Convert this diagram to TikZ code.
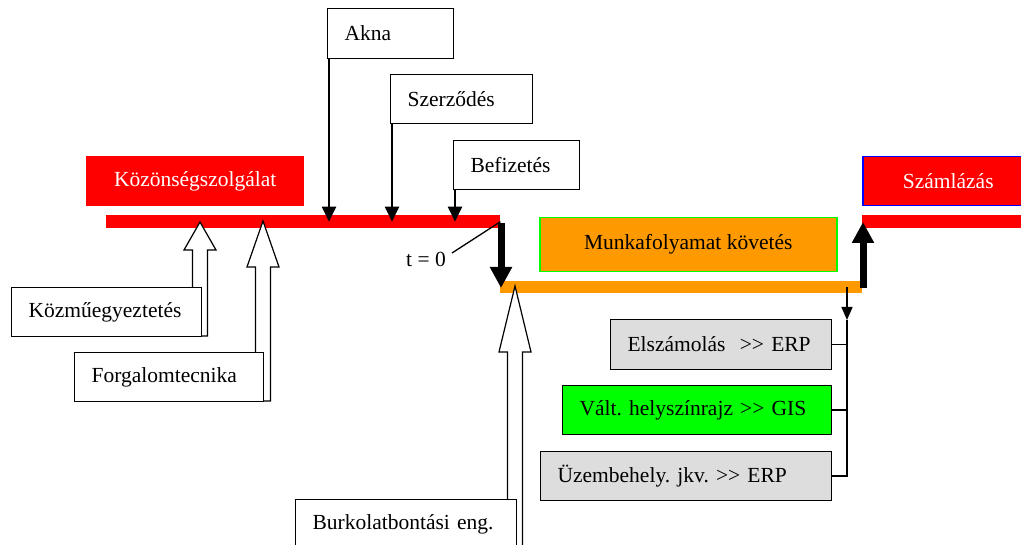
\documentclass[tikz,border=0pt]{standalone}
\usepackage{fontspec}
\setmainfont{Liberation Serif}
\usetikzlibrary{arrows.meta,calc}
\frenchspacing
\definecolor{barred}{RGB}{255,0,0}
\definecolor{barorange}{RGB}{255,153,0}
\definecolor{boxgreen}{RGB}{0,255,0}
\definecolor{boxgrey}{RGB}{221,221,221}
\definecolor{boxblue}{RGB}{0,0,255}
\newcommand\hollowarrow[4]{% tip x, tip y, head base y, shaft bottom y
  \draw[blockarrow] ({#1-7.5},#4) -- ({#1-7.5},#3) -- ({#1-16},#3) -- (#1,#2)
    -- ({#1+16},#3) -- ({#1+7.5},#3) -- ({#1+7.5},#4) -- cycle;}
\begin{document}
\begin{tikzpicture}[x=1pt,y=-1pt,
  txt/.style={font=\fontsize{21.5}{25}\selectfont},
  lbox/.style={txt,draw,line width=1.2pt,fill=white,anchor=north west,
    align=left,inner xsep=17pt,inner ysep=0pt},
  cbox/.style={txt,anchor=north west,align=center,inner sep=0pt},
  bar/.style={anchor=north west,inner sep=0pt,minimum height=13pt},
  thinarrow/.style={line width=2pt,-{Triangle[width=14pt,length=15pt]}},
  thickarrow/.style={line width=7pt,-{Triangle[width=21pt,length=21pt]}},
  smallarrow/.style={line width=1.5pt,-{Triangle[width=11pt,length=13pt]}},
  bus/.style={line width=1.3pt},
  blockarrow/.style={draw,line width=1.2pt,fill=white,line join=miter}]
\useasboundingbox (0,0) rectangle (1021,545);
\clip (0,0) rectangle (1021,545);

% timeline bars
\node[bar,fill=barred,minimum width=394pt] (redbar) at (106,215) {};
\node[bar,fill=barorange,minimum width=362pt,minimum height=12pt] (orangebar) at (500,281) {};
\node[bar,fill=barred,minimum width=170pt] (redbarb) at (862,215) {};

% phase titles
\node[cbox,fill=barred,text=white,minimum width=218pt,minimum height=50pt] (kozon) at (86,156) {Közönségszolgálat};
\node[cbox,fill=barorange,draw=boxgreen,line width=1.5pt,minimum width=297pt,minimum height=54pt] (munka) at (539,217) {Munkafolyamat követés};
\node[cbox,fill=barred,draw=boxblue,line width=1.5pt,text=white,minimum width=171pt,minimum height=49pt] (szaml) at (862,156) {Számlázás};

% inputs from above
\node[lbox,text width=92pt,minimum height=50pt] (akna) at (327,8) {Akna};
\node[lbox,text width=108pt,minimum height=49pt] (szerz) at (390,74) {Szerződés};
\node[lbox,text width=92pt,minimum height=49pt] (befiz) at (453,140) {Befizetés};
\draw[thinarrow] ([xshift=2pt]akna.south west) -- ([xshift=2pt]akna.south west |- redbar.center);
\draw[thinarrow] ([xshift=2pt]szerz.south west) -- ([xshift=2pt]szerz.south west |- redbar.center);
\draw[thinarrow] ([xshift=2pt]befiz.south west) -- ([xshift=2pt]befiz.south west |- redbar.center);

% hand-over between phases
\coordinate (t0) at (452,253);
\node[txt,anchor=east,inner sep=0pt] (tlabel) at (446,259) {t = 0};
\draw[line width=1.3pt] (t0) -- (redbar.east);
\coordinate (downtop) at (501,223);
\coordinate (downend) at (501,288);
\draw[thickarrow] (downtop) -- (downend);
\coordinate (uptop) at (863,222);
\coordinate (upbottom) at (863,288);
\draw[thickarrow] (upbottom) -- (uptop);

% inputs from below (hollow arrows)
\hollowarrow{200}{222}{250}{336}
\hollowarrow{263}{221}{267}{401}
\hollowarrow{515}{286}{352}{560}
\node[lbox,text width=156pt,minimum height=49pt] (kozmu) at (11,287) {Közműegyeztetés};
\node[lbox,text width=155pt,minimum height=49pt] (forg) at (74,352) {Forgalomtecnika};
\node[lbox,text width=187pt,minimum height=50pt] (burk) at (295,499) {Burkolatbontási eng.};

% outputs of the work process
\node[lbox,fill=boxgrey,text width=187pt,minimum height=50pt] (elsz) at (610,319) {Elszámolás\ \ >{}> ERP};
\node[lbox,fill=boxgreen,text width=235pt,minimum height=49pt] (valt) at (562,385) {Vált. helyszínrajz >{}> GIS};
\node[lbox,fill=boxgrey,text width=257pt,minimum height=49pt] (uzem) at (540,451) {Üzembehely. jkv. >{}> ERP};
\coordinate (busstart) at (847,287);
\coordinate (bustop) at (847,320);
\draw[smallarrow] (busstart) -- (bustop);
\draw[bus] (uzem.east) -| (bustop);
\draw[bus] (elsz.east) -- (elsz.east -| bustop);
\draw[bus] (valt.east) -- (valt.east -| bustop);
\end{tikzpicture}
\end{document}
